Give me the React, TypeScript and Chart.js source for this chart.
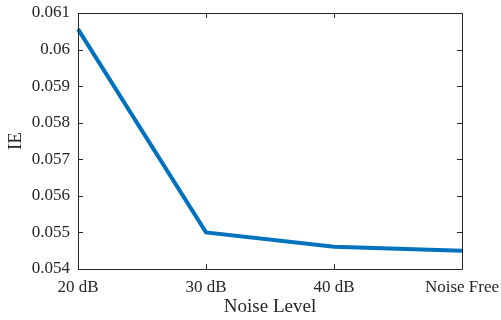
import React, { useEffect, useRef } from "react";
import { Chart, registerables } from "chart.js";

Chart.register(...registerables);

const categories = ["20 dB", "30 dB", "40 dB", "Noise Free"];
const ieValues = [0.06056, 0.0550, 0.05461, 0.05450];
const yMin = 0.054;
const yMax = 0.061;
const yStep = 0.001;
const xTitle = "Noise Level";
const yTitle = "IE";

const AXIS_COLOR = "#262626";
const FONT = "'Liberation Serif', 'Times New Roman', serif";

const boxPlugin = {
  id: "matlabBox",
  afterDraw(chart: any) {
    const { ctx, chartArea } = chart;
    const { left, right, top, bottom } = chartArea;
    const tl = 5;
    ctx.save();
    ctx.strokeStyle = AXIS_COLOR;
    ctx.lineWidth = 1;
    ctx.beginPath();
    ctx.rect(Math.round(left) + 0.5, Math.round(top) + 0.5, Math.round(right - left), Math.round(bottom - top));
    const xs = chart.scales.x;
    xs.ticks.forEach((_: any, i: number) => {
      const x = Math.round(xs.getPixelForTick(i)) + 0.5;
      ctx.moveTo(x, bottom);
      ctx.lineTo(x, bottom - tl);
      ctx.moveTo(x, top);
      ctx.lineTo(x, top + tl);
    });
    const ys = chart.scales.y;
    ys.ticks.forEach((_: any, i: number) => {
      const y = Math.round(ys.getPixelForTick(i)) + 0.5;
      ctx.moveTo(left, y);
      ctx.lineTo(left + tl, y);
      ctx.moveTo(right, y);
      ctx.lineTo(right - tl, y);
    });
    ctx.stroke();
    ctx.restore();
  },
};

export default function App() {
  const ref = useRef<HTMLCanvasElement>(null);
  useEffect(() => {
    document.body.style.margin = "0";
    const chart = new Chart(ref.current!, {
      type: "line",
      data: {
        labels: categories,
        datasets: [
          {
            data: ieValues,
            borderColor: "#0072BD",
            borderWidth: 4,
            pointRadius: 0,
            tension: 0,
            fill: false,
          },
        ],
      },
      options: {
        animation: false,
        responsive: false,
        maintainAspectRatio: false,
        layout: { padding: { left: 0, right: 39, top: 13, bottom: 0 } },
        plugins: { legend: { display: false }, tooltip: { enabled: false } },
        scales: {
          x: {
            type: "category",
            offset: false,
            grid: { display: false, drawTicks: false },
            border: { display: false },
            ticks: {
              color: AXIS_COLOR,
              font: { family: FONT, size: 17 },
              padding: 8,
              maxRotation: 0,
              autoSkip: false,
            },
            title: {
              display: true,
              text: xTitle,
              color: AXIS_COLOR,
              font: { family: FONT, size: 19 },
              padding: { top: 0, bottom: 2 },
            },
            afterFit: (s: any) => {
              s.height = 51;
              s.paddingLeft = 0;
              s.paddingRight = 0;
            },
          },
          y: {
            min: yMin,
            max: yMax,
            grid: { display: false, drawTicks: false },
            border: { display: false },
            ticks: {
              stepSize: yStep,
              color: AXIS_COLOR,
              font: { family: FONT, size: 17 },
              padding: 8,
              callback: (v: any) => String(parseFloat(Number(v).toFixed(3))),
            },
            title: {
              display: true,
              text: yTitle,
              color: AXIS_COLOR,
              font: { family: FONT, size: 19 },
              padding: { top: 5, bottom: 0 },
            },
            afterFit: (s: any) => {
              s.width = 78;
              s.paddingTop = 0;
              s.paddingBottom = 0;
            },
          },
        },
      },
      plugins: [boxPlugin],
    });
    return () => chart.destroy();
  }, []);
  return <canvas ref={ref} width={501} height={320} style={{ display: "block" }} />;
}
